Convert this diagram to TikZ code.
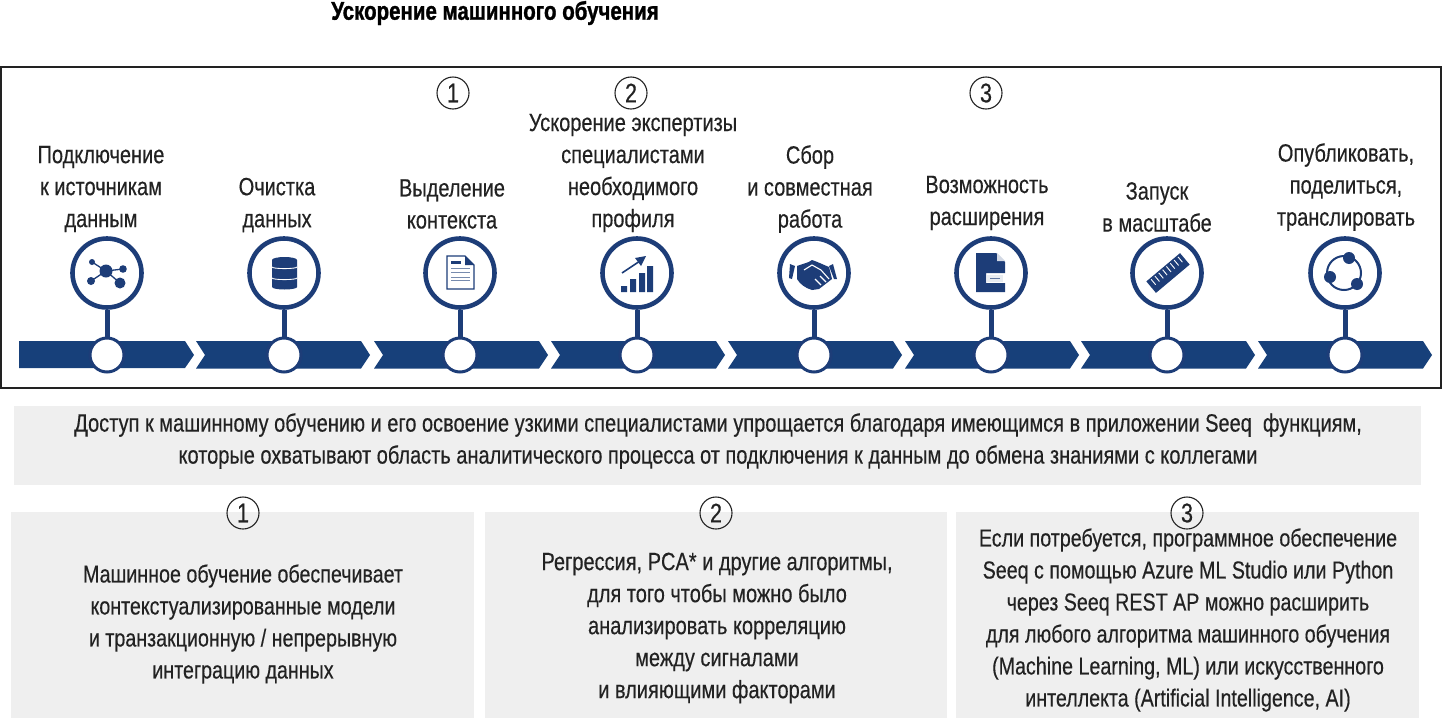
\documentclass[tikz,border=0pt]{standalone}
\usepackage{fontspec}
\setmainfont[FakeStretch=0.8,FakeBold=0.35]{Liberation Sans}
\newfontfamily\ttl[FakeStretch=0.8,FakeBold=1.2,BoldFont={Liberation Sans Bold}]{Liberation Sans Bold}
\usetikzlibrary{calc}
\definecolor{navy}{HTML}{17407A}
\definecolor{ring}{HTML}{1D3D78}
\definecolor{panel}{HTML}{EFEFEF}
\definecolor{ink}{HTML}{222222}
\tikzset{
 x=1pt,y=-1pt,
 txt/.style={font=\fontsize{25}{32}\selectfont,text=ink,align=center,inner sep=0pt},
 txts/.style={font=\fontsize{24.6}{32}\selectfont,text=ink,align=center,inner sep=0pt},
 chev/.style={fill=navy,draw=none},
 iconring/.style={circle,draw=ring,line width=4.6pt,fill=white,minimum size=69pt,inner sep=0pt},
 dot/.style={circle,draw=ring,line width=3pt,fill=white,minimum size=34pt,inner sep=0pt},
 stem/.style={draw=ring,line width=5pt},
 numc/.style={circle,draw=ink,line width=1.1pt,minimum size=32pt,inner sep=0pt,font=\fontsize{27}{27}\selectfont,text=ink},
 pnl/.style={fill=panel,draw=none},
 icn/.style={fill=ring,draw=none},
 icl/.style={draw=ring,line width=1.3pt}
}
\newcommand{\chv}[1]{\fill[chev] (#1,341) -- ++(165,0) -- ++(9,14) -- ++(-9,13.5) -- ++(-165,0) -- ++(9,-13.5) -- cycle;}
\begin{document}
\begin{tikzpicture}
\useasboundingbox (0,0) rectangle (1443,718);
\fill[white] (0,0) rectangle (1443,718);
\node[txt,font=\fontsize{25.6}{30}\selectfont\ttl,text=black] (title) at (495,13) {Ускорение машинного обучения};
\draw[draw=ink,line width=2pt] (1,67) rectangle (1441,388);
% panels
\fill[pnl] (14,406) rectangle (1421,485);
\fill[pnl] (11,512) rectangle (474,718);
\fill[pnl] (485,512) rectangle (947,718);
\fill[pnl] (956,512) rectangle (1419,718);
% chevrons
\fill[chev] (19,341) -- (185,341) -- (194,355) -- (185,368) -- (19,368) -- cycle;
\chv{196}\chv{374}\chv{551}\chv{728}\chv{905}\chv{1081}\chv{1258}
% markers
\foreach \n/\x in {a/107,b/284,c/460,d/637,e/814,f/991,g/1167,h/1345}{
  \node[iconring] (i\n) at (\x,273) {};
  \node[dot] (d\n) at (\x,355) {};
  \draw[stem] (i\n) -- (d\n);
}
% icon a: network
\draw[icl] (106,271) -- (92,262) (106,271) -- (123,269) (106,271) -- (120,283) (106,271) -- (91,281);
\fill[icn] (106,271) circle (6.5) (92,262) circle (3) (123,269) circle (3.8) (120,283) circle (5.5) (91,281) circle (4);
% icon b: database
\fill[icn] (272,260) arc[start angle=180,end angle=360,x radius=12.5,y radius=3] -- (297,287) arc[start angle=0,end angle=180,x radius=12.5,y radius=2.5] -- cycle;
\draw[white,line width=.9pt] (272,267) arc[start angle=180,end angle=0,x radius=12.5,y radius=1.6];
\draw[white,line width=.9pt] (272,278) arc[start angle=180,end angle=0,x radius=12.5,y radius=1.6];
% icon c: document
\draw[draw=ring,line width=1.4pt,fill=white] (447,256) -- (465,256) -- (474,265) -- (474,289) -- (447,289) -- cycle;
\fill[icn] (465,256) -- (474,265) -- (465,265) -- cycle;
\fill[icn] (451,261) rectangle (461,264);
\draw[ring!60,line width=1pt] (451,268) -- (470,268) (451,272) -- (470,272) (451,277) -- (470,277) (451,280) -- (470,280);
% icon d: bars with arrow
\fill[icn] (621,286) rectangle (627,292) (630,279) rectangle (636,292) (639,273) rectangle (645,292) (647,266) rectangle (653,292);
\draw[ring,line width=1.6pt] (622,273) -- (640,261);
\fill[icn] (646,256) -- (635,258) -- (641,266) -- cycle;
% icon e: handshake
\fill[icn] (790,264) -- (795,266) -- (792,279) -- (789,278) -- cycle (833,264) -- (837,279) -- (834,279) -- (829,266) -- cycle;
\fill[icn] (797,266) .. controls (805,263) and (808,263) .. (812,260) .. controls (818,262) and (824,265) .. (829,267) -- (832,279) -- (819,289) -- (812,290) .. controls (805,288) and (800,284) .. (797,279) -- cycle;
\draw[white,line width=1.1pt] (804,270) -- (812,265) -- (821,270) -- (829,279) (815,279) -- (821,285) (820,276) -- (826,282);
% icon f: file
\fill[icn] (976,253) -- (996,253) -- (1005,262) -- (1005,273) -- (986,273) -- (986,283) -- (1005,283) -- (1005,292) -- (976,292) -- cycle;
\fill[ring!20] (997,253) -- (1005,261) -- (997,261) -- cycle;
\fill[ring!10] (987,275) rectangle (1003,282);
\draw[ring!70,line width=.8pt] (990,278) -- (1000,278);
% icon g: ruler
\begin{scope}[shift={(1168,273)},rotate=40]
 \fill[icn] (-22,-7.5) rectangle (22,7.5);
 \foreach \t in {-17,-12,-7,-2,3,8,13,18}{\draw[white,line width=.9pt] (\t,-6) -- (\t,1);}
\end{scope}
% icon h: cycle
\draw[ring,line width=2pt] (1344,273) circle (17);
\fill[icn] (1349,258) circle (6) (1330,277) circle (6) (1357,284) circle (6);
% top labels
\node[txt] (la) at (101,189) {Подключение\\к источникам\\данным};
\node[txt] (lb) at (277,205) {Очистка\\данных};
\node[txt] (lc) at (452,204) {Выделение\\контекста};
\node[txt] (ld) at (633,173) {Ускорение экспертизы\\специалистами\\необходимого\\профиля};
\node[txt] (le) at (810,189) {Сбор\\и совместная\\работа};
\node[txt] (lf) at (987,203) {Возможность\\расширения};
\node[txt] (lg) at (1157,207) {Запуск\\в масштабе};
\node[txt] (lh) at (1346,187) {Опубликовать,\\поделиться,\\транслировать};
% numbers
\node[numc] (n1) at (453,93) {1};
\node[numc] (n2) at (631,93) {2};
\node[numc] (n3) at (986,93) {3};
\node[numc] (m1) at (243,513) {1};
\node[numc] (m2) at (716,513) {2};
\node[numc] (m3) at (1187,513) {3};
% panel text
\node[txt] (main) at (718,441) {Доступ к машинному обучению и его освоение узкими специалистами упрощается благодаря имеющимся в приложении Seeq\ \ функциям,\\которые охватывают область аналитического процесса от подключения к данным до обмена знаниями с коллегами};
\node[txts] (p1) at (243,624) {Машинное обучение обеспечивает\\контекстуализированные модели\\и транзакционную / непрерывную\\интеграцию данных};
\node[txt] (p2) at (717,628) {Регрессия, PCA* и другие алгоритмы,\\для того чтобы можно было\\анализировать корреляцию\\между сигналами\\и влияющими факторами};
\node[txts] (p3) at (1188,620) {Если потребуется, программное обеспечение\\Seeq с помощью Azure ML Studio или Python\\через Seeq REST AP можно расширить\\для любого алгоритма машинного обучения\\(Machine Learning, ML) или искусственного\\интеллекта (Artificial Intelligence, AI)};
\end{tikzpicture}
\end{document}
